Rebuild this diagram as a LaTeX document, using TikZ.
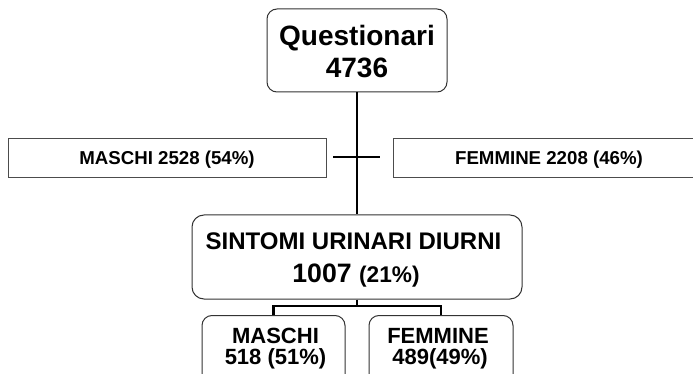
\documentclass[tikz,border=0pt]{standalone}
\usepackage{fontspec}
\setmainfont{Liberation Sans}
\begin{document}
\begin{tikzpicture}[x=0.75pt,y=-0.75pt,
  roundbox/.style={draw=black!80, line width=0.75pt, rounded corners=7.5pt, fill=white, inner sep=0pt},
  sidebox/.style={draw=black!70, line width=0.75pt, fill=white, inner sep=0pt},
  conn/.style={draw=black, line width=2.1pt},
  txt/.style={anchor=base, inner sep=0pt, font=\bfseries}
]
\useasboundingbox (0,0) rectangle (693,374);
\clip (0,0) rectangle (693,374);
% boxes
\node[roundbox, minimum width=135pt, minimum height=62.25pt] (q) at (357,50.5) {};
\node[roundbox, minimum width=247.5pt, minimum height=63pt, rounded corners=9pt] (mid) at (357,257) {};
\node[sidebox, minimum width=238.5pt, minimum height=29.25pt] (ms) at (167,158.5) {};
\node[sidebox, minimum width=234pt, minimum height=29.25pt] (fs) at (549,158.5) {};
\node[roundbox, minimum width=107.25pt, minimum height=52.5pt, anchor=north] (mm) at (273.5,315) {};
\node[roundbox, minimum width=108pt, minimum height=52.5pt, anchor=north] (fm) at (441,315) {};
% connectors
\draw[conn] (q.south) -- (mid.north);
\coordinate (cl) at (333,157);
\coordinate (cr) at (380,157);
\draw[conn] (cl) -- (cr);
\coordinate (j) at (357,306);
\draw[conn] (mid.south) -- (j);
\draw[conn] (j) -| (mm.north);
\draw[conn] (j) -| (fm.north);
% texts
\node[txt, font=\bfseries\fontsize{21pt}{24pt}\selectfont] (q1) at (357,46) {Questionari};
\node[txt, font=\bfseries\fontsize{21pt}{24pt}\selectfont] (q2) at (357,78) {4736};
\node[txt, font=\bfseries\fontsize{18pt}{21pt}\selectfont] (m1) at (353.5,250) {SINTOMI URINARI DIURNI};
\node[txt] (m2) at (356,282) {\fontsize{20pt}{23pt}\selectfont 1007 \fontsize{17pt}{20pt}\selectfont(21\%)};
\node[txt, font=\bfseries\fontsize{14pt}{17pt}\selectfont] (ms1) at (167,164.3) {MASCHI 2528 (54\%)};
\node[txt, font=\bfseries\fontsize{14pt}{17pt}\selectfont] (fs1) at (549,164.3) {FEMMINE 2208 (46\%)};
\node[txt, font=\bfseries\fontsize{16.5pt}{19pt}\selectfont] (mm1) at (275.5,343) {MASCHI};
\node[txt, font=\bfseries\fontsize{16.5pt}{19pt}\selectfont] (mm2) at (275.5,364) {518 (51\%)};
\node[txt, font=\bfseries\fontsize{16.5pt}{19pt}\selectfont] (fm1) at (438,343) {FEMMINE};
\node[txt, font=\bfseries\fontsize{16.5pt}{19pt}\selectfont] (fm2) at (440,364) {489(49\%)};
\end{tikzpicture}
\end{document}
